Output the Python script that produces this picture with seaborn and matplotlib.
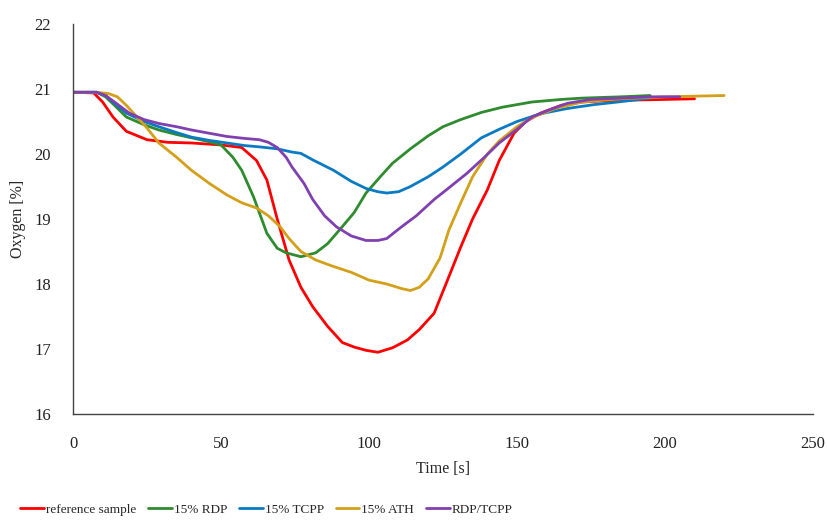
import numpy as np
import pandas as pd
import matplotlib
matplotlib.use("Agg")
import matplotlib.pyplot as plt
import seaborn as sns

series_names = ["reference sample", "15% RDP", "15% TCPP", "15% ATH", "RDP/TCPP"]
colors = ["#FF0000", "#2E8B2E", "#0A7BC2", "#D4A01A", "#8040B0"]

ref_x = [0, 7, 10, 13.5, 18, 25, 32, 40, 50, 57, 62, 65.5, 69, 73, 77, 81, 86, 91, 95, 99, 103, 108, 113, 117, 122, 126, 131, 135, 140, 144, 149, 153, 158, 165, 172, 180, 189, 200, 210]
ref_y = [20.95, 20.94, 20.8, 20.57, 20.35, 20.22, 20.18, 20.17, 20.14, 20.1, 19.9, 19.6, 19.0, 18.37, 17.95, 17.65, 17.35, 17.1, 17.03, 16.98, 16.95, 17.02, 17.14, 17.3, 17.55, 18.0, 18.57, 19.0, 19.45, 19.9, 20.32, 20.5, 20.63, 20.75, 20.8, 20.82, 20.83, 20.84, 20.85]

rdp_x = [0, 8, 11, 14, 18, 24, 29, 35, 40, 45, 50, 54, 57, 61, 65.5, 69, 72, 77, 82, 86, 90, 95, 99, 104, 108, 114, 120, 125, 131, 138, 145, 155, 165, 172, 185, 195]
rdp_y = [20.95, 20.95, 20.88, 20.75, 20.57, 20.45, 20.37, 20.3, 20.25, 20.2, 20.14, 19.95, 19.75, 19.34, 18.78, 18.55, 18.48, 18.42, 18.48, 18.62, 18.83, 19.1, 19.4, 19.66, 19.86, 20.08, 20.28, 20.42, 20.53, 20.64, 20.72, 20.8, 20.84, 20.86, 20.88, 20.9]

tcpp_x = [0, 8, 11, 14, 18, 24, 29, 35, 40, 46, 52, 58, 63, 69, 74, 77, 81, 88, 94, 99, 103, 106, 110, 114, 120, 125, 131, 138, 144, 150, 158, 167, 176, 184, 195]
tcpp_y = [20.95, 20.95, 20.9, 20.78, 20.63, 20.5, 20.42, 20.33, 20.26, 20.21, 20.17, 20.13, 20.11, 20.08, 20.03, 20.01, 19.91, 19.75, 19.58, 19.47, 19.42, 19.4, 19.42, 19.5, 19.65, 19.8, 20.0, 20.25, 20.38, 20.5, 20.62, 20.7, 20.76, 20.8, 20.86]

ath_x = [0, 8, 12, 15, 18, 21.6, 25, 29, 35, 40, 46, 52, 57, 62, 66, 70, 73, 77, 82, 88, 94, 100, 106, 111, 114, 117, 120, 124, 127, 131, 135, 140, 144, 150, 155, 163, 172, 185, 200, 210, 220]
ath_y = [20.95, 20.95, 20.93, 20.88, 20.75, 20.57, 20.4, 20.17, 19.95, 19.75, 19.55, 19.37, 19.25, 19.17, 19.05, 18.88, 18.7, 18.5, 18.37, 18.27, 18.18, 18.06, 18.0, 17.93, 17.9, 17.95, 18.08, 18.4, 18.83, 19.25, 19.65, 20.0, 20.2, 20.42, 20.56, 20.7, 20.8, 20.85, 20.88, 20.89, 20.9]

mix_x = [0, 8, 11, 14, 19, 24, 29, 35, 40, 46, 52, 58, 63, 66, 69, 72, 74, 78, 81, 85, 89, 94, 99, 103, 106, 111, 116, 122, 127, 133, 139, 144, 150, 155, 161, 167, 175, 185, 195, 205]
mix_y = [20.95, 20.95, 20.9, 20.8, 20.63, 20.53, 20.47, 20.42, 20.37, 20.32, 20.27, 20.24, 20.22, 20.18, 20.1, 19.95, 19.8, 19.55, 19.3, 19.05, 18.88, 18.74, 18.67, 18.67, 18.7, 18.88, 19.05, 19.3, 19.48, 19.7, 19.95, 20.17, 20.38, 20.57, 20.68, 20.78, 20.84, 20.86, 20.88, 20.88]

x_ticks = [0, 50, 100, 150, 200, 250]
y_ticks = [16, 17, 18, 19, 20, 21, 22]

frames = []
for name, xs, ys in zip(series_names,
                        [ref_x, rdp_x, tcpp_x, ath_x, mix_x],
                        [ref_y, rdp_y, tcpp_y, ath_y, mix_y]):
    frames.append(pd.DataFrame({"Time": xs, "Oxygen": ys, "series": name}))
df = pd.concat(frames, ignore_index=True)

sns.set_theme(style="white")
plt.rcParams["font.family"] = ["Liberation Serif", "DejaVu Serif"]

fig = plt.figure(figsize=(8.27, 5.2), dpi=100)
ax = fig.add_axes([0.0883, 0.2038, 0.8947, 0.75])

sns.lineplot(data=df, x="Time", y="Oxygen", hue="series", hue_order=series_names,
             palette=dict(zip(series_names, colors)), sort=False, estimator=None,
             linewidth=2.0, ax=ax)

ax.set_xlim(0, 250)
ax.set_ylim(16, 22)
ax.set_xticks(x_ticks)
ax.set_yticks(y_ticks)
ax.tick_params(axis="both", length=0, labelsize=12, colors="#222222")
ax.tick_params(axis="x", pad=16)
ax.tick_params(axis="y", pad=16)
for s in ["top", "right"]:
    ax.spines[s].set_visible(False)
for s in ["left", "bottom"]:
    ax.spines[s].set_color("#444444")
    ax.spines[s].set_linewidth(1.0)

ax.set_xlabel("Time [s]", fontsize=11.5, labelpad=6)
ax.set_ylabel("Oxygen [%]", fontsize=11.5, labelpad=6)

handles, labels = ax.get_legend_handles_labels()
ax.get_legend().remove()
fig.legend(handles, labels, loc="center", bbox_to_anchor=(0.322, 0.02), ncol=5,
           frameon=False, fontsize=9.5, handlelength=1.8, handletextpad=0.15,
           columnspacing=0.9, borderpad=0.1)

fig.savefig("out.png", dpi=100)
